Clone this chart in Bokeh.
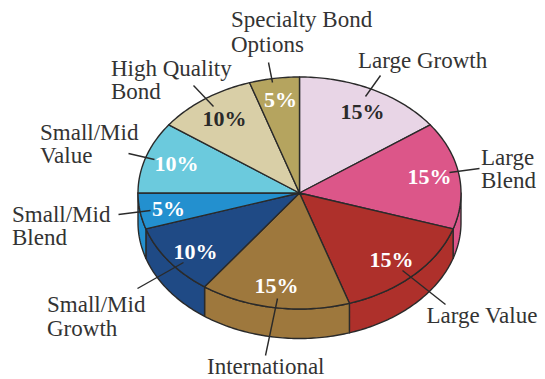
import numpy as np
from bokeh.plotting import figure
from bokeh.models import Range1d
from bokeh.core.properties import value
from bokeh.embed import file_html
from bokeh.resources import INLINE

# Allocation shares, clockwise from twelve o'clock
categories = ["Large Growth", "Large Blend", "Large Value", "International",
              "Small/Mid Growth", "Small/Mid Blend", "Small/Mid Value",
              "High Quality Bond", "Specialty Bond Options"]
shares = [15, 15, 15, 15, 10, 5, 10, 10, 5]
colors = ["#E8D5E6", "#DC5689", "#AE302B", "#9E783D", "#1F4A85",
          "#2390CF", "#6BCADD", "#D9CFA7", "#B5A45F"]

# Category captions: text, left edge, baseline
captions = [("Specialty Bond", 230.5, 27), ("Options", 230.5, 52),
            ("High Quality", 110.5, 76), ("Bond", 110.5, 99),
            ("Small/Mid", 39.5, 140), ("Value", 39.5, 163),
            ("Large Growth", 357.5, 68),
            ("Large", 480.5, 165), ("Blend", 480.5, 188),
            ("Small/Mid", 11.5, 222), ("Blend", 11.5, 245),
            ("Small/Mid", 46.5, 312), ("Growth", 46.5, 336),
            ("International", 206.5, 374),
            ("Large Value", 426, 323)]

# Share labels per slice: centre x, baseline, colour
pct_pos = [(362, 119, "#2A2A2A"), (429, 184, "#FFFFFF"),
           (391, 267, "#FFFFFF"), (276, 293, "#FFFFFF"),
           (195, 259, "#FFFFFF"), (168, 216, "#FFFFFF"),
           (176, 171, "#FFFFFF"), (224, 126, "#2A2A2A"),
           (280, 107, "#FFFFFF")]

# Leader lines: x0, y0, x1, y1
leaders = [(380, 75, 365, 96), (479, 168, 449, 172), (402, 270, 445, 304),
           (277, 298, 265, 355), (137, 288, 183, 262), (118, 214, 150, 210),
           (128, 153, 154, 159), (193, 85, 213, 106), (268, 62, 272, 82)]

INK = "#2A2A2A"
CX, CY, RX, RY, DEPTH = 299, 192.5, 161.5, 116, 29.5
FONT = "Liberation Serif"

p = figure(width=545, height=379, output_backend="svg", toolbar_location=None,
           x_range=Range1d(0, 545), y_range=Range1d(379, 0),
           min_border=0, outline_line_color=None, background_fill_color="white")
p.axis.visible = False
p.grid.visible = False


def rim(a0, a1, dy=0.0):
    """Points along the ellipse between two clockwise angles in degrees."""
    t = np.radians(np.linspace(a0, a1, max(int(abs(a1 - a0)), 2) + 1))
    return CX + RX * np.sin(t), CY + dy - RY * np.cos(t)


edges = np.concatenate([[0], np.cumsum(shares)]) * 3.6

# Side wall: only the front half of the disc, from 90 to 270 degrees
for a0, a1, col in zip(edges[:-1], edges[1:], colors):
    lo, hi = max(a0, 90), min(a1, 270)
    if lo >= hi:
        continue
    xt, yt = rim(lo, hi)
    xb, yb = rim(hi, lo, DEPTH)
    p.patch(list(xt) + list(xb), list(yt) + list(yb), fill_color=col,
            line_color=INK, line_width=1.4, line_join="round")

# Top face
for a0, a1, col in zip(edges[:-1], edges[1:], colors):
    x, y = rim(a0, a1)
    p.patch([CX] + list(x), [CY] + list(y), fill_color=col,
            line_color=INK, line_width=1.4, line_join="round")

p.segment([l[0] for l in leaders], [l[1] for l in leaders],
          [l[2] for l in leaders], [l[3] for l in leaders],
          line_color=INK, line_width=1.4)

# The svg text baseline sits a third of an em low, so each label is lifted by that much
for txt, x, y in captions:
    p.text([x], [y], text=[txt], text_font=value(FONT), text_font_size="23px",
           text_color="#333333", text_align="left", text_baseline="alphabetic",
           y_offset=-8.5)

for share, (x, y, col) in zip(shares, pct_pos):
    p.text([x], [y], text=[f"{share}%"], text_font=value(FONT), text_font_size="22px",
           text_font_style="bold", text_color=col, text_align="center",
           text_baseline="alphabetic", y_offset=-8)

open("out.html", "w").write(file_html(p, INLINE))
